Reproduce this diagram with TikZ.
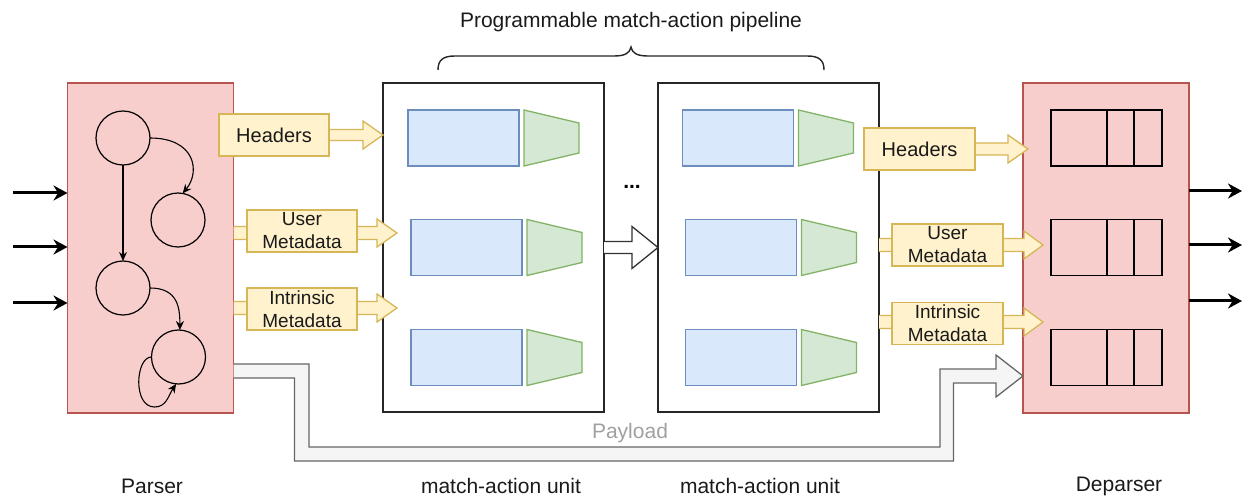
\documentclass[tikz,border=0pt]{standalone}
\usepackage{fontspec}
\setmainfont{Liberation Sans}
\usetikzlibrary{arrows.meta,calc}

\definecolor{pinkF}{HTML}{F8CECC}\definecolor{pinkD}{HTML}{B85450}
\definecolor{blueF}{HTML}{DAE8FC}\definecolor{blueD}{HTML}{6C8EBF}
\definecolor{greenF}{HTML}{D5E8D4}\definecolor{greenD}{HTML}{82B366}
\definecolor{yelF}{HTML}{FFF2CC}\definecolor{yelD}{HTML}{D6B656}
\definecolor{grayF}{HTML}{F5F5F5}\definecolor{grayD}{HTML}{666666}
\definecolor{txt}{HTML}{1A1A1A}
\definecolor{paytxt}{HTML}{A0A0A0}

\newcommand\fsz[2]{\fontsize{#1pt}{#2pt}\selectfont}

% horizontal block arrow: fill, stroke, from, tip, shaft half, head half, head length
\newcommand\flexarrow[7]{%
  \fill[#1] let \p1=(#3), \p2=(#4) in
    (\x1,\y2+#5) -- (\x2-#7,\y2+#5) -- (\x2-#7,\y2+#6) -- (\p2)
    -- (\x2-#7,\y2-#6) -- (\x2-#7,\y2-#5) -- (\x1,\y2-#5) -- cycle;
  \draw[#2] let \p1=(#3), \p2=(#4) in
    (\x1,\y2+#5) -- (\x2-#7,\y2+#5) -- (\x2-#7,\y2+#6) -- (\p2)
    -- (\x2-#7,\y2-#6) -- (\x2-#7,\y2-#5) -- (\x1,\y2-#5);
}
% action block beside a table
\newcommand\actblk[1]{\draw[act] ($(#1.north east)+(5,0)$) -- ++(55,13) -- ++(0,30) -- ++(-55,13) -- cycle;}
% queue slots
\newcommand\slots[1]{%
  \draw[line width=1.3pt] ($(#1.north west)+(56,0)$) -- ($(#1.south west)+(56,0)$);
  \draw[line width=1.3pt] ($(#1.north west)+(83,0)$) -- ($(#1.south west)+(83,0)$);}

\begin{document}
\begin{tikzpicture}[x=1pt,y=-1pt,line width=1.3pt,
  every node/.style={inner sep=0pt,outer sep=0pt},
  stage/.style={draw=pinkD,fill=pinkF,minimum width=166pt,minimum height=330pt},
  mau/.style={draw=black!85,fill=white,minimum width=221pt,minimum height=329pt},
  state/.style={circle,draw=black,minimum size=54pt,line width=1.2pt},
  tbl/.style={draw=blueD,fill=blueF,minimum width=111pt,minimum height=56pt},
  act/.style={draw=greenD,fill=greenF},
  slot/.style={draw=black,minimum width=111pt,minimum height=56pt},
  tag/.style={draw=yelD,fill=yelF,minimum width=110pt,minimum height=42pt,
    font=\fsz{19}{23},align=center,text=txt},
  lbl/.style={font=\fsz{21}{24},text=txt},
  trans/.style={-{Stealth[length=9pt,width=8pt]},line width=1.1pt},
  io/.style={-{Stealth[length=14pt,width=15pt]},line width=3pt},
  yF/.style={fill=yelF},yD/.style={draw=yelD,line width=1.3pt},
  wF/.style={fill=white},wD/.style={draw=black!80,line width=1.3pt},
  gF/.style={fill=grayF},gD/.style={draw=grayD,line width=1.3pt}]

\useasboundingbox (0,0) rectangle (1243,497);

% pipeline title and brace
\node[lbl] (title) at (631,22) {Programmable match-action pipeline};
\coordinate (brL) at (438,70);
\coordinate (brM) at (631,47);
\coordinate (brR) at (824,70);
\draw[line width=1.4pt,black!85] (brL) .. controls +(0,-10) and +(-12,0) .. ++(17,-14)
  -- ($(brM)+(-17,9)$) .. controls +(11,0) and +(-1,6) .. (brM)
  .. controls +(1,6) and +(-11,0) .. ($(brM)+(17,9)$)
  -- ($(brR)+(-17,-14)$) .. controls +(12,0) and +(0,-10) .. (brR);

% match-action units
\node[mau] (mau1) at (493.5,247.5) {};
\node[mau] (mau2) at (768.5,247.5) {};
\node[tbl] (t11) at (463.5,138) {};
\node[tbl] (t12) at (466.5,247.5) {};
\node[tbl] (t13) at (466.5,357.5) {};
\node[tbl] (t21) at (738,138) {};
\node[tbl] (t22) at (741,247.5) {};
\node[tbl] (t23) at (741,357.5) {};
\foreach \t in {t11,t12,t13,t21,t22,t23} {\actblk{\t}}
\node[font=\fsz{21}{24}\bfseries] (dots) at (632,187) {...};
\flexarrow{wF}{wD}{mau1.east}{mau2.west}{6pt}{21pt}{26pt}

% deparser
\node[stage] (deparser) at (1106,248) {};
\node[slot] (q1) at (1106.5,138) {};
\node[slot] (q2) at (1106.5,247.5) {};
\node[slot] (q3) at (1106.5,357.5) {};
\foreach \q in {q1,q2,q3} {\slots{\q}}

% parser
\node[stage] (parser) at (150.5,248) {};
\node[state] (c1) at (123,138) {};
\node[state] (c2) at (178,220) {};
\node[state] (c3) at (123,288) {};
\node[state] (c4) at (178.5,357) {};
\draw[trans] (c1.south) -- (c3.north);
\draw[trans] (c1.east) .. controls +(45,0) and +(18,-22) .. (c2.80);
\draw[trans] (c3.east) .. controls +(28,0) and +(0,-22) .. (c4.87);
\coordinate (loop) at ($(c4.center)+(-24,50)$);
\draw[trans] (c4.west) .. controls +(-16,0) and +(-22,0) .. (loop)
  .. controls +(12,0) and +(-8,12) .. (c4.265);

% packet in / out
\foreach \y [count=\i] in {193,247,303} {
  \coordinate (in\i) at (13,\y);
  \draw[io] (in\i) -- (parser.west |- in\i);
}
\foreach \y [count=\i] in {191,245,301} {
  \coordinate (out\i) at (1242,\y);
  \draw[io] (deparser.east |- out\i) -- (out\i);
}

% fields handed from parser to the first unit
\coordinate (hL) at (mau1.west |- 0,135);
\coordinate (uL) at ($(mau1.west |- 0,233)+(14,0)$);
\coordinate (iL) at ($(mau1.west |- 0,308)+(14,0)$);
\flexarrow{yF}{yD}{parser.east}{hL}{5.5pt}{14pt}{20pt}
\flexarrow{yF}{yD}{parser.east}{uL}{6.5pt}{14pt}{20pt}
\flexarrow{yF}{yD}{parser.east}{iL}{6.5pt}{14pt}{20pt}
\node[tag,font=\fsz{20}{23}] (hdrL) at (274,135) {Headers};
\node[tag] (umL) at (302,231) {User\\Metadata};
\node[tag] (imL) at (302,309) {Intrinsic\\Metadata};

% fields handed from the last unit to the deparser
\coordinate (hR) at ($(deparser.west |- 0,149)+(5,0)$);
\coordinate (uR) at ($(deparser.west |- 0,245)+(20,0)$);
\coordinate (iR) at ($(deparser.west |- 0,322)+(20,0)$);
\flexarrow{yF}{yD}{mau2.east}{hR}{6pt}{14pt}{20pt}
\flexarrow{yF}{yD}{mau2.east}{uR}{6.5pt}{14pt}{19pt}
\flexarrow{yF}{yD}{mau2.east}{iR}{6.5pt}{14pt}{19pt}
\node[tag,minimum width=111pt,font=\fsz{20}{23}] (hdrR) at (919.5,149) {Headers};
\node[tag,minimum width=111pt] (umR) at (947.5,245) {User\\Metadata};
\node[tag,minimum width=111pt] (imR) at (947.5,323.5) {Intrinsic\\Metadata};

% payload bypass
\coordinate (pa) at (parser.east |- 0,371);
\coordinate (pb) at (deparser.west |- 0,376);
\fill[grayF] ([yshift=7pt]pa) -- ++(75.5,0) -- ++(0,83) -- ++(631,0) -- ++(0,-78)
  -- ([xshift=-27pt,yshift=7pt]pb) -- ++(0,-14) -- (pb) -- ([xshift=-27pt,yshift=-21pt]pb)
  -- ++(0,-14) -- ++(-42.5,0) -- ++(0,78) -- ++(-659,0) -- ++(0,-83) -- ([yshift=-7pt]pa) -- cycle;
\draw[grayD] ([yshift=7pt]pa) -- ++(75.5,0) -- ++(0,83) -- ++(631,0) -- ++(0,-78)
  -- ([xshift=-27pt,yshift=7pt]pb) -- ++(0,-14) -- (pb) -- ([xshift=-27pt,yshift=-21pt]pb)
  -- ++(0,-14) -- ++(-42.5,0) -- ++(0,78) -- ++(-659,0) -- ++(0,-83) -- ([yshift=-7pt]pa);
\node[font=\fsz{21}{24},text=paytxt] (payload) at (630,433) {Payload};

% captions
\node[lbl] (capP) at (152,486) {Parser};
\node[lbl] (capM1) at (501,486) {match-action unit};
\node[lbl] (capM2) at (760,486) {match-action unit};
\node[lbl] (capD) at (1119,486) {Deparser};
\end{tikzpicture}
\end{document}
